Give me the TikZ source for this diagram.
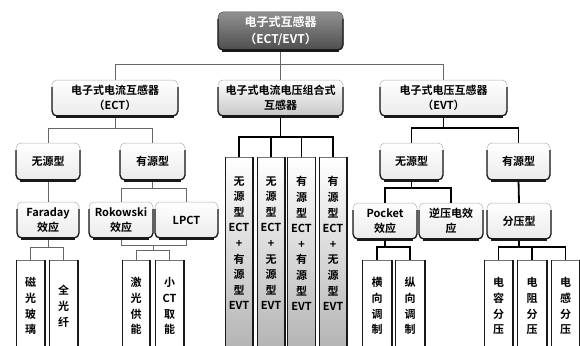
\documentclass[tikz,border=0pt]{standalone}
\usepackage{fontspec}
\setmainfont{Noto Sans CJK SC}[BoldFont={Noto Sans CJK SC Bold}]
\usetikzlibrary{calc}
\definecolor{roottop}{RGB}{145,145,145}
\definecolor{rootbot}{RGB}{78,78,78}
\definecolor{edgec}{RGB}{25,25,25}
\begin{document}
\begin{tikzpicture}[x=1pt,y=-1pt,
  every node/.style={inner sep=0pt, outer sep=0pt},
  box/.style={font=\bfseries\fontsize{11}{15}\selectfont, align=center, rounded corners=5pt, draw=black!30, line width=0.5pt, top color=white, bottom color=black!8},
  rootbox/.style={box, top color=roottop, bottom color=rootbot, text=white, draw=black!70, font=\bfseries\fontsize{12}{17}\selectfont},
  leaf/.style={draw=black!55, line width=0.6pt, fill=white, minimum height=92pt, anchor=north, font=\bfseries\fontsize{11}{15.8}\selectfont, align=center},
  cleaf/.style={draw=black!55, line width=0.6pt, top color=white, bottom color=black!30, minimum width=28pt, minimum height=195pt, anchor=north},
  vtxt/.style={font=\bfseries\fontsize{11}{15.6}\selectfont, align=center, anchor=north},
  thinc/.style={draw=black!60, line width=0.9pt},
  thickc/.style={draw=black, line width=1.8pt},
  boxedge/.style={draw=edgec, line width=1.3pt, rounded corners=5pt},
]
\useasboundingbox (0,0) rectangle (580,345);
\fill[white] (0,0) rectangle (580,345);
\clip (0,0) rectangle (580,345);

% level 0 and 1
\node[rootbox, minimum width=125pt, minimum height=38pt] (root) at (280.5,31) {电子式互感器\\（ECT/EVT）};
\node[box, minimum width=126pt, minimum height=36pt] (ect) at (115,98) {电子式电流互感器\\（ECT）};
\node[box, bottom color=black!22, minimum width=125pt, minimum height=36pt] (comb) at (280.5,98) {电子式电流电压组合式\\互感器};
\node[box, minimum width=127pt, minimum height=36pt] (evt) at (443.5,98) {电子式电压互感器\\（EVT）};

% ECT subtree
\node[box, minimum width=64pt, minimum height=37pt] (lw) at (48,161.5) {无源型};
\node[box, minimum width=65pt, minimum height=37pt] (ly) at (152.5,161.5) {有源型};
\node[box, minimum width=62pt, minimum height=36pt] (far) at (48,220) {Faraday\\效应};
\node[box, minimum width=64pt, minimum height=36pt] (rok) at (121,220) {Rokowski\\效应};
\node[box, minimum width=63pt, minimum height=36pt] (lpct) at (186.5,220) {LPCT};
\node[leaf, minimum width=29pt] (l1) at (30.5,260) {磁\\光\\玻\\璃};
\node[leaf, minimum width=29pt] (l2) at (63.5,260) {全\\光\\纤};
\node[leaf, minimum width=28pt] (l3) at (136,260) {激\\光\\供\\能};
\node[leaf, minimum width=29pt] (l4) at (169.5,260) {小\\CT\\取\\能};

% combined subtree
\node[cleaf] (c1) at (239,157) {};
\node[cleaf] (c2) at (271,157) {};
\node[cleaf] (c3) at (301.5,157) {};
\node[cleaf] (c4) at (333,157) {};
\node[vtxt] (c1t) at ([yshift=-19.5pt]c1.north) {无\\源\\型\\ECT\\+\\有\\源\\型\\EVT};
\node[vtxt] (c2t) at ([yshift=-19.5pt]c2.north) {无\\源\\型\\ECT\\+\\无\\源\\型\\EVT};
\node[vtxt] (c3t) at ([yshift=-19.5pt]c3.north) {有\\源\\型\\ECT\\+\\有\\源\\型\\EVT};
\node[vtxt] (c4t) at ([yshift=-19.5pt]c4.north) {有\\源\\型\\ECT\\+\\无\\源\\型\\EVT};

% EVT subtree
\node[box, minimum width=63pt, minimum height=37pt] (rw) at (411.5,161.5) {无源型};
\node[box, minimum width=63pt, minimum height=37pt] (ry) at (518.5,161.5) {有源型};
\node[box, minimum width=64pt, minimum height=36pt] (poc) at (385,221) {Pocket\\效应};
\node[box, minimum width=64pt, minimum height=36pt] (nyd) at (451,221) {逆压电效\\应};
\node[box, minimum width=64pt, minimum height=36pt] (fyx) at (519,221) {分压型};
\node[leaf, minimum width=30pt] (r1) at (377,260) {横\\向\\调\\制};
\node[leaf, minimum width=30pt] (r2) at (410,260) {纵\\向\\调\\制};
\node[leaf, minimum width=29pt] (r3) at (498.5,260) {电\\容\\分\\压};
\node[leaf, minimum width=30pt] (r4) at (532,260) {电\\阻\\分\\压};
\node[leaf, minimum width=29pt] (r5) at (565.5,260) {电\\感\\分\\压};

% connectors level 1
\draw[thinc] (root.south) -- (comb.north);
\draw[thinc] (root.south) -- ++(0,14) -| (ect.north);
\draw[thinc] (root.south) -- ++(0,14) -| (evt.north);

% ECT connectors
\draw[thinc] (ect.south) -- ++(0,12) -| (lw.north);
\draw[thinc] (ect.south) -- ++(0,12) -| (ly.north);
\draw[thinc] (lw.south) -- (far.north);
\draw[thinc] (ly.south) -- ++(0,8) -| (rok.north);
\draw[thinc] (ly.south) -- ++(0,8) -| (lpct.north);
\draw[thinc] (far.south) -- ++(0,9) -| (l1.north);
\draw[thinc] (far.south) -- ++(0,9) -| (l2.north);
\draw[thinc] (rok.south) -- ++(0,7) -| (lpct.south);
\coordinate (rlm) at ($(rok.south)!0.5!(lpct.south)+(0,7)$);
\draw[thinc] (rlm) -- ++(0,5) -| (l3.north);
\draw[thinc] (rlm) -- ++(0,5) -| (l4.north);

% combined connectors
\foreach \n in {c1,c2,c3,c4}{
  \draw[thickc] (comb.south) -- ++(0,21) -| (\n.north);
}

% EVT connectors
\draw[thickc] (evt.south) -- ++(0,12) -| (rw.north);
\draw[thickc] (evt.south) -- ++(0,12) -| (ry.north);
\draw[thickc] (rw.south) -- ++(0,8) -| (poc.north);
\draw[thickc] (rw.south) -- ++(0,8) -| (nyd.north);
\draw[thickc] (ry.south) -- (fyx.north);
\draw[thickc] (poc.south) -- ++(0,8) -| (r1.north);
\draw[thickc] (poc.south) -- ++(0,8) -| (r2.north);
\foreach \n in {r3,r4,r5}{
  \draw[thickc] (fyx.south) -- ++(0,8) -| (\n.north);
}

% box shadow edges
\foreach \n in {root,ect,comb,evt,lw,ly,far,rok,lpct,rw,ry,poc,nyd,fyx}{
  \draw[boxedge] ([yshift=-7pt]\n.north west) -- (\n.south west) -- (\n.south east) -- ([yshift=-7pt]\n.north east);
  \draw[draw=edgec, line width=2.2pt] ([xshift=4pt,yshift=-0.5pt]\n.south west) -- ([xshift=-4pt,yshift=-0.5pt]\n.south east);
}
% leaf edges
\foreach \n in {l1,l2,l3,l4,r1,r2,r3,r4,r5,c1,c2,c3,c4}{
  \draw[draw=edgec, line width=1.6pt] (\n.north east) -- (\n.south east);
  \draw[draw=edgec, line width=1pt] (\n.north west) -- (\n.south west);
}
\end{tikzpicture}
\end{document}
